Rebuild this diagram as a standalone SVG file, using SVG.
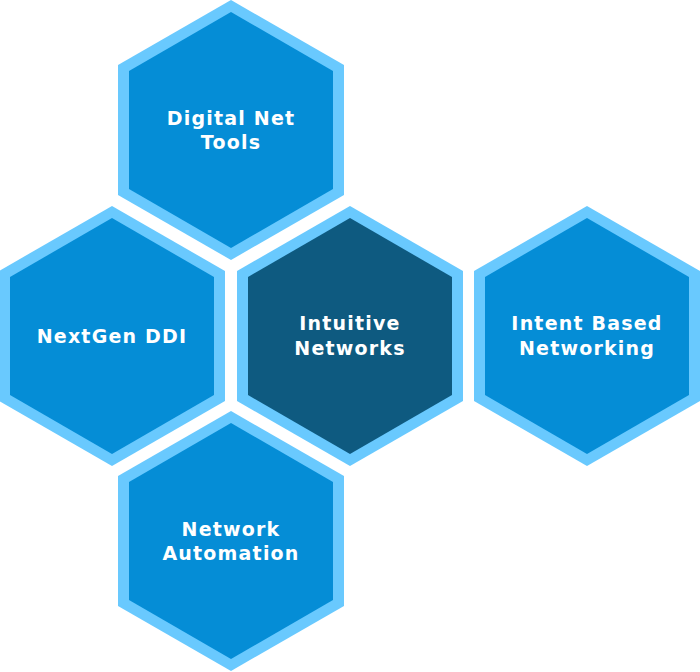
<svg xmlns="http://www.w3.org/2000/svg" width="700" height="672" viewBox="0 0 700 672">
<defs>
<style>
.outer{fill:#69c9fe}
.inner{fill:#058dd6}
.dark{fill:#0e5a80}
.lbl{font-family:"DejaVu Sans","Liberation Sans",sans-serif;font-weight:bold;font-size:19px;letter-spacing:1.2px;fill:#ffffff;text-anchor:middle}
</style>
<polygon id="hexO" points="0,-130 113,-65 113,65 0,130 -113,65 -113,-65"/>
<polygon id="hexI" points="0,-118 102,-59 102,59 0,118 -102,59 -102,-59"/>
</defs>
<rect width="700" height="672" fill="#ffffff"/>
<g id="connectors"></g>
<g id="node-digital-net-tools" transform="translate(231,130)">
<use href="#hexO" class="outer"/>
<use href="#hexI" class="inner"/>
<text class="lbl" x="0" y="-5">Digital Net</text>
<text class="lbl" x="0" y="19">Tools</text>
</g>
<g id="node-nextgen-ddi" transform="translate(112,336)">
<use href="#hexO" class="outer"/>
<use href="#hexI" class="inner"/>
<text class="lbl" x="0" y="7">NextGen DDI</text>
</g>
<g id="node-intuitive-networks" transform="translate(350,336)">
<use href="#hexO" class="outer"/>
<use href="#hexI" class="dark"/>
<text class="lbl" x="0" y="-6">Intuitive</text>
<text class="lbl" x="0" y="19">Networks</text>
</g>
<g id="node-intent-based-networking" transform="translate(587,336)">
<use href="#hexO" class="outer"/>
<use href="#hexI" class="inner"/>
<text class="lbl" x="0" y="-6">Intent Based</text>
<text class="lbl" x="0" y="19">Networking</text>
</g>
<g id="node-network-automation" transform="translate(231,541)">
<use href="#hexO" class="outer"/>
<use href="#hexI" class="inner"/>
<text class="lbl" x="0" y="-5">Network</text>
<text class="lbl" x="0" y="19">Automation</text>
</g>
</svg>
